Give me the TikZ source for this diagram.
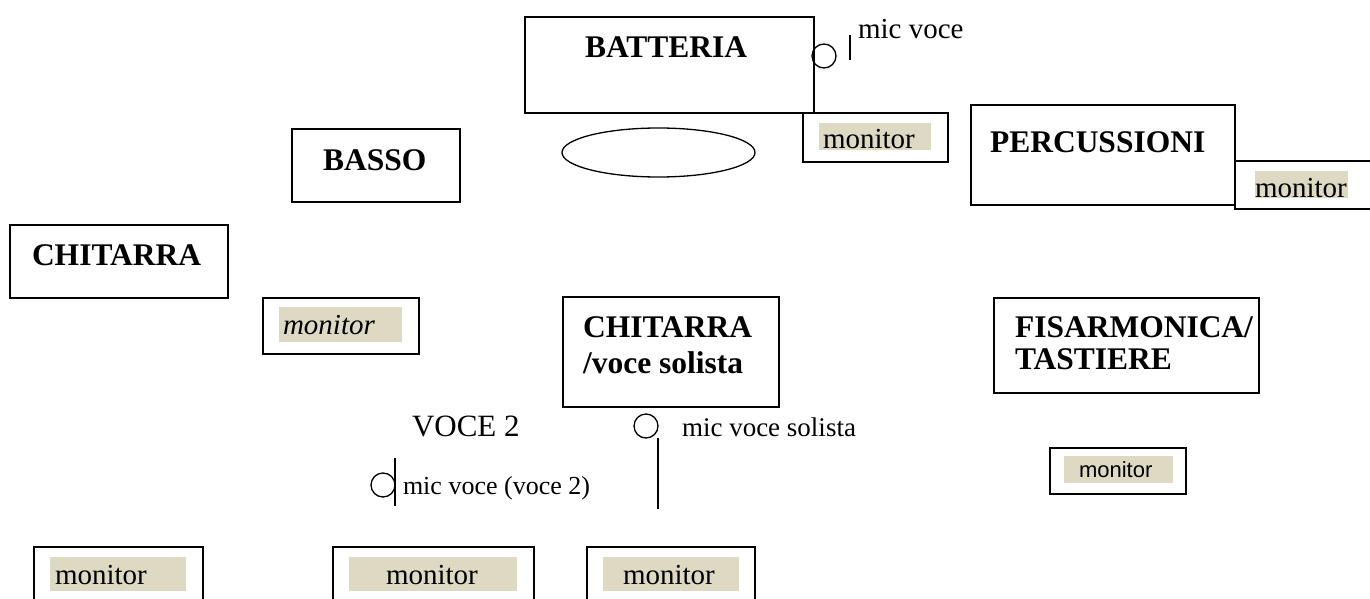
\documentclass[tikz,border=0pt]{standalone}
\usepackage{fontspec}
\setmainfont{Liberation Serif}
\newfontfamily\sansmon{Liberation Sans}
\usetikzlibrary{shapes.geometric}
\definecolor{hl}{HTML}{DDD9C3}
\tikzset{
  stagebox/.style={draw=black, line width=1.6pt, fill=white, inner sep=0pt, rectangle},
  hlbox/.style={fill=hl, draw=none, inner sep=0pt, rectangle},
  lbl/.style={anchor=base west, inner sep=0pt, outer sep=0pt},
  big/.style={lbl, font=\fontsize{31.5}{36}\selectfont\bfseries},
  mon/.style={lbl, font=\fontsize{29}{33}\selectfont},
  mic/.style={draw=black, line width=1.3pt, circle, minimum size=24pt, inner sep=0pt},
  micline/.style={draw=black, line width=1.3pt}
}
\newcommand\rbox[6]{\node[#6, anchor=north west, minimum width={(#4-#2)*1pt}, minimum height={(#5-#3)*1pt}] (#1) at (#2,#3) {};}
\begin{document}
\begin{tikzpicture}[x=1pt,y=-1pt]
\useasboundingbox (0,0) rectangle (1370,599);
\clip (0,0) rectangle (1370,599);
% BATTERIA
\rbox{batteria}{524}{16}{813}{112}{stagebox}
\node[big] (tbatt) at (585,58) {BATTERIA};
\node[mic] (mic1) at (824,56) {};
\coordinate (m1a) at (850,35); \coordinate (m1b) at (850,60);
\draw[micline] (m1a) -- (m1b);
\node[lbl, font=\fontsize{29}{33}\selectfont] (tmic1) at (858,39) {mic voce};
\rbox{battmon}{802}{112}{947}{161}{stagebox}
\rbox{battmonhl}{819}{123}{931}{150}{hlbox}
\node[mon] (tbattmon) at (823,149) {monitor};
\node[draw=black, line width=1.3pt, ellipse, minimum width=193pt, minimum height=49pt, inner sep=0pt] (cassa) at (658.5,152.5) {};
% BASSO
\rbox{basso}{291}{128}{459}{201}{stagebox}
\node[big] (tbasso) at (323,170) {BASSO};
% PERCUSSIONI
\rbox{perc}{970}{104}{1234}{204}{stagebox}
\node[big] (tperc) at (990,152) {PERCUSSIONI};
\rbox{percmon}{1234}{160}{1390}{208}{stagebox}
\rbox{percmonhl}{1255}{171}{1348}{198}{hlbox}
\node[mon] (tpercmon) at (1255,197) {monitor};
% CHITARRA
\rbox{chit}{9}{224}{227}{297}{stagebox}
\node[big] (tchit) at (32,265) {CHITARRA};
\rbox{italmon}{262}{297}{418}{353}{stagebox}
\rbox{italmonhl}{279}{307}{402}{342}{hlbox}
\node[mon, font=\fontsize{29}{33}\selectfont\itshape] (titalmon) at (283,334) {monitor};
% CHITARRA / voce solista
\rbox{chitvoce}{562}{296}{778}{406}{stagebox}
\node[big] (tchitv1) at (583,337) {CHITARRA};
\node[big] (tchitv2) at (583,373) {/voce solista};
% FISARMONICA
\rbox{fisa}{993}{297}{1258}{392}{stagebox}
\node[big] (tfisa1) at (1015,337) {FISARMONICA/};
\node[big] (tfisa2) at (1015,369) {TASTIERE};
\rbox{sansmon}{1049}{447}{1185}{493}{stagebox}
\rbox{sansmonhl}{1064}{456}{1173}{483}{hlbox}
\node[lbl, font=\fontsize{22}{26}\selectfont\sansmon] (tsansmon) at (1079,477) {monitor};
% voices and mics
\node[lbl, font=\fontsize{31}{35}\selectfont] (tvoce2) at (412,436) {VOCE 2};
\node[mic] (mic2) at (646,426) {};
\coordinate (m2a) at (658,438); \coordinate (m2b) at (658,509);
\draw[micline] (m2a) -- (m2b);
\node[lbl, font=\fontsize{27}{31}\selectfont] (tmic2) at (682,436) {mic voce solista};
\node[mic] (mic3) at (383,485) {};
\coordinate (m3a) at (395,458); \coordinate (m3b) at (395,506);
\draw[micline] (m3a) -- (m3b);
\node[lbl, font=\fontsize{26}{30}\selectfont] (tmic3) at (403,494) {mic voce (voce 2)};
% bottom monitors
\rbox{mon1}{33}{546}{202}{630}{stagebox}
\rbox{mon1hl}{50}{557}{186}{591}{hlbox}
\node[mon] (tmon1) at (55,584) {monitor};
\rbox{mon2}{332}{546}{533}{630}{stagebox}
\rbox{mon2hl}{349}{557}{517}{591}{hlbox}
\node[mon] (tmon2) at (386,584) {monitor};
\rbox{mon3}{586}{546}{754}{630}{stagebox}
\rbox{mon3hl}{603}{557}{739}{591}{hlbox}
\node[mon] (tmon3) at (623,584) {monitor};
\end{tikzpicture}
\end{document}
